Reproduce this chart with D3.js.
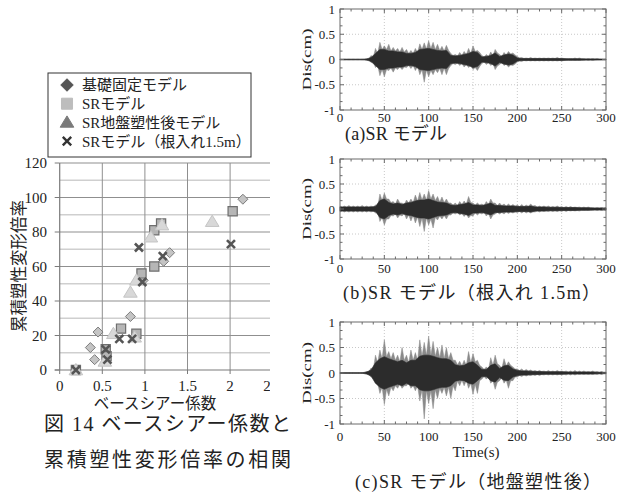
<!DOCTYPE html>
<html><head><meta charset="utf-8">
<script src="https://cdn.jsdelivr.net/npm/d3@7"></script>
<style>body{margin:0;background:#fff}</style>
</head><body>
<script>
// ---------- scatter data ----------
const legendLabels = ["基礎固定モデル","SRモデル","SR地盤塑性後モデル","SRモデル（根入れ1.5m）"];
const fixedX = [0.19,0.36,0.41,0.45,0.83,0.98,1.22,1.29,2.15];
const fixedY = [0,13,6,22,31,52,63,68,99];
const srX = [0.19,0.54,0.55,0.72,0.90,0.96,1.11,1.11,1.19,2.03];
const srY = [0,12,8,24,21,56,60,81,85,92];
const plastX = [0.19,0.53,0.63,0.83,0.88,0.90,1.07,1.20,1.79];
const plastY = [0,5,21,45,19,52,77,84,86];
const embX = [0.19,0.54,0.56,0.70,0.85,0.93,0.97,1.21,2.01];
const embY = [0,12,6,18,18,71,51,66,73];
const scatterYTicks = [0,20,40,60,80,100,120];
const scatterXTicks = [0,0.5,1,1.5,2,2.5];

// ---------- waveform envelope data (every 5 s, 0..300 s) ----------
const timeStep = 5;
const upA = [0.01,0.01,0.01,0.01,0.01,0.01,0.02,0.08,0.22,0.34,0.27,0.3,0.24,0.22,0.24,0.2,0.18,0.22,0.31,0.33,0.37,0.34,0.3,0.26,0.28,0.12,0.1,0.14,0.16,0.22,0.27,0.18,0.08,0.1,0.15,0.2,0.1,0.14,0.16,0.13,0.06,0.04,0.03,0.04,0.03,0.03,0.03,0.03,0.03,0.04,0.03,0.02,0.02,0.03,0.03,0.02,0.02,0.02,0.02,0.01,0.01];
const dnA = [0.01,0.01,0.01,0.01,0.01,0.01,0.02,0.06,0.16,0.32,0.34,0.22,0.25,0.2,0.2,0.16,0.18,0.22,0.3,0.45,0.34,0.3,0.26,0.3,0.3,0.12,0.1,0.12,0.15,0.16,0.2,0.22,0.08,0.1,0.12,0.2,0.1,0.12,0.15,0.12,0.05,0.04,0.03,0.03,0.03,0.03,0.03,0.03,0.03,0.03,0.03,0.02,0.02,0.02,0.02,0.02,0.02,0.02,0.01,0.01,0.01];
const coreA = [0.006,0.006,0.006,0.006,0.006,0.006,0.01,0.04,0.12,0.2,0.2,0.17,0.17,0.15,0.15,0.12,0.12,0.14,0.2,0.21,0.22,0.2,0.18,0.17,0.18,0.08,0.07,0.08,0.1,0.12,0.16,0.14,0.05,0.06,0.08,0.13,0.06,0.09,0.11,0.09,0.03,0.02,0.02,0.02,0.02,0.02,0.02,0.02,0.02,0.02,0.02,0.015,0.015,0.015,0.015,0.012,0.012,0.012,0.01,0.008,0.008];

const upB = [0.06,0.06,0.07,0.06,0.06,0.07,0.06,0.06,0.08,0.3,0.32,0.2,0.15,0.2,0.12,0.18,0.2,0.28,0.33,0.3,0.37,0.3,0.25,0.24,0.2,0.12,0.12,0.15,0.16,0.25,0.12,0.12,0.1,0.15,0.2,0.12,0.12,0.1,0.1,0.09,0.08,0.09,0.08,0.1,0.07,0.06,0.06,0.06,0.05,0.06,0.05,0.05,0.05,0.04,0.04,0.04,0.04,0.03,0.03,0.03,0.03];
const dnB = [0.06,0.06,0.06,0.06,0.06,0.06,0.06,0.06,0.08,0.25,0.32,0.2,0.14,0.18,0.14,0.2,0.24,0.28,0.35,0.45,0.32,0.38,0.22,0.2,0.2,0.12,0.1,0.12,0.15,0.18,0.14,0.12,0.1,0.14,0.2,0.1,0.1,0.1,0.09,0.08,0.07,0.08,0.08,0.08,0.06,0.06,0.05,0.05,0.05,0.05,0.05,0.05,0.04,0.04,0.04,0.03,0.03,0.03,0.03,0.03,0.03];
const coreB = [0.04,0.04,0.04,0.04,0.04,0.04,0.04,0.04,0.05,0.17,0.2,0.13,0.1,0.12,0.09,0.12,0.13,0.16,0.18,0.18,0.2,0.17,0.14,0.13,0.12,0.08,0.07,0.09,0.1,0.13,0.08,0.08,0.07,0.09,0.12,0.07,0.07,0.06,0.06,0.06,0.05,0.05,0.05,0.06,0.04,0.04,0.04,0.035,0.035,0.035,0.03,0.03,0.03,0.03,0.025,0.025,0.025,0.02,0.02,0.02,0.02];

const upC = [0.01,0.01,0.01,0.01,0.01,0.01,0.03,0.1,0.35,0.45,0.65,0.42,0.4,0.35,0.5,0.35,0.45,0.4,0.65,0.6,0.72,0.62,0.5,0.55,0.5,0.4,0.25,0.23,0.25,0.42,0.38,0.25,0.12,0.12,0.3,0.35,0.15,0.28,0.22,0.12,0.08,0.08,0.07,0.06,0.05,0.05,0.04,0.05,0.04,0.05,0.04,0.04,0.04,0.05,0.04,0.04,0.03,0.04,0.03,0.03,0.02];
const dnC = [0.01,0.01,0.01,0.01,0.01,0.01,0.02,0.08,0.2,0.4,0.62,0.45,0.35,0.3,0.3,0.25,0.3,0.35,0.55,0.9,0.6,0.7,0.5,0.4,0.45,0.5,0.35,0.25,0.25,0.3,0.42,0.4,0.12,0.12,0.2,0.32,0.15,0.2,0.3,0.15,0.08,0.07,0.06,0.05,0.05,0.05,0.04,0.04,0.04,0.04,0.04,0.04,0.04,0.04,0.03,0.03,0.03,0.03,0.03,0.03,0.02];
const coreC = [0.006,0.006,0.006,0.006,0.006,0.006,0.02,0.06,0.2,0.28,0.32,0.28,0.25,0.22,0.25,0.2,0.25,0.25,0.33,0.35,0.35,0.33,0.3,0.28,0.28,0.25,0.16,0.14,0.15,0.2,0.22,0.15,0.07,0.07,0.15,0.18,0.09,0.14,0.15,0.08,0.05,0.04,0.04,0.035,0.03,0.03,0.025,0.025,0.025,0.025,0.025,0.02,0.02,0.02,0.02,0.02,0.02,0.02,0.015,0.015,0.01];

const timeTicks = [0,50,100,150,200,250,300];
const disTicks = [-1,-0.5,0,0.5,1];
const panelCaptions = ["(a)SR モデル","(b)SR モデル（根入れ 1.5m）","(c)SR モデル（地盤塑性後）"];

// ---------- drawing ----------
const FONT = '"Liberation Serif","Times New Roman","Noto Sans CJK JP",serif';
const svg = d3.select("body").append("svg").attr("width",621).attr("height",493)
  .style("font-family",FONT);
svg.append("rect").attr("width",621).attr("height",493).attr("fill","#fff");

// ===== scatter =====
const xS = d3.scaleLinear().domain([0,2.5]).range([59.7,272.7]);
const yS = d3.scaleLinear().domain([0,120]).range([370,163]);
svg.append("clipPath").attr("id","lc").append("rect").attr("x",0).attr("y",0).attr("width",270).attr("height",493);
const L = svg.append("g").attr("clip-path","url(#lc)");

d3.range(10,121,10).forEach(v=>{
  const major = v%20===0;
  L.append("line").attr("x1",xS(0)).attr("x2",xS(2.5)).attr("y1",yS(v)).attr("y2",yS(v))
    .attr("stroke",major?"#8f8f8f":"#cfcfcf").attr("stroke-width",major?1:1.6);
});
scatterXTicks.forEach(v=>{
  L.append("line").attr("x1",xS(v)).attr("x2",xS(v)).attr("y1",yS(0)).attr("y2",yS(120))
    .attr("stroke",v===0?"#7a7a7a":"#8f8f8f").attr("stroke-width",v===0?1.2:1);
});
L.append("line").attr("x1",xS(0)-5).attr("x2",xS(2.5)).attr("y1",yS(0)).attr("y2",yS(0))
  .attr("stroke","#7a7a7a").attr("stroke-width",1.2);
scatterYTicks.forEach(v=>{
  L.append("line").attr("x1",xS(0)-5).attr("x2",xS(0)).attr("y1",yS(v)).attr("y2",yS(v)).attr("stroke","#7a7a7a");
  L.append("text").attr("x",47).attr("y",yS(v)).attr("dy","0.35em").attr("text-anchor","end")
    .attr("font-size",15).attr("fill","#222").text(v);
});
scatterXTicks.forEach(v=>{
  L.append("line").attr("x1",xS(v)).attr("x2",xS(v)).attr("y1",yS(0)).attr("y2",yS(0)+4).attr("stroke","#7a7a7a");
  L.append("text").attr("x",xS(v)).attr("y",391).attr("text-anchor","middle")
    .attr("font-size",15).attr("fill","#222").text(v);
});

const shapes = {
  diamond:"M0,-5L5,0L0,5L-5,0Z",
  square:"M-4.6,-4.6h9.2v9.2h-9.2Z",
  triangle:"M0,-6.5L6.8,4.8L-6.8,4.8Z",
  cross:"M-4,-4L4,4M-4,4L4,-4"
};
function plotSeries(xs, ys, shape, fill, stroke, sw){
  L.append("g").selectAll("path").data(xs.map((x,i)=>[x,ys[i]])).join("path")
    .attr("d",shapes[shape])
    .attr("transform",d=>`translate(${xS(d[0])},${yS(d[1])})`)
    .attr("fill",fill).attr("stroke",stroke).attr("stroke-width",sw);
}
plotSeries(fixedX,fixedY,"diamond","#c4c4c4","#7c7c7c",1);
plotSeries(srX,srY,"square","#b6b6b6","#6e6e6e",1.2);
plotSeries(plastX,plastY,"triangle","#d8d8d8","#c4c4c4",1);
plotSeries(embX,embY,"cross","none","#555",2.6);

svg.append("text").attr("transform","translate(19,266) rotate(-90)").attr("text-anchor","middle")
  .attr("dy","0.35em").attr("font-size",16.5).attr("fill","#222").text("累積塑性変形倍率");
svg.append("text").attr("x",155).attr("y",409).attr("text-anchor","middle")
  .attr("font-size",15.5).attr("fill","#222").text("ベースシアー係数");
svg.append("text").attr("x",44).attr("y",431).attr("font-size",20).attr("fill","#222")
  .attr("textLength",247).attr("lengthAdjust","spacing").text("図 14  ベースシアー係数と");
svg.append("text").attr("x",44).attr("y",467).attr("font-size",20).attr("fill","#222")
  .attr("textLength",247).attr("lengthAdjust","spacing").text("累積塑性変形倍率の相関");

const lg = svg.append("g");
lg.append("rect").attr("x",48).attr("y",73).attr("width",203).attr("height",84)
  .attr("fill","#fff").attr("stroke","#333").attr("stroke-width",1);
const lgStyles = [
  {s:"diamond",f:"#555",st:"#555",w:1,sc:1.25},
  {s:"square",f:"#bdbdbd",st:"#bdbdbd",w:1,sc:1.2},
  {s:"triangle",f:"#7a7a7a",st:"#7a7a7a",w:1,sc:1.0},
  {s:"cross",f:"none",st:"#333",w:2.4,sc:1.05}
];
legendLabels.forEach((t,i)=>{
  const cy = 85 + i*18.7;
  const st = lgStyles[i];
  lg.append("path").attr("d",shapes[st.s]).attr("transform",`translate(67,${cy}) scale(${st.sc})`)
    .attr("fill",st.f).attr("stroke",st.st).attr("stroke-width",st.w/st.sc);
  lg.append("text").attr("x",82).attr("y",cy).attr("dy","0.36em").attr("font-size",15)
    .attr("fill","#222").text(t);
});

// ===== waveforms =====
const xT = d3.scaleLinear().domain([0,300]).range([340,606]);
const panels = [
  {top:9, bottom:110, up:upA, dn:dnA, core:coreA, tickY:121.5, cap:panelCaptions[0], capX:345, capY:140, capW:102},
  {top:159, bottom:259, up:upB, dn:dnB, core:coreB, tickY:272.5, cap:panelCaptions[1], capX:343, capY:299, capW:257},
  {top:322, bottom:424, up:upC, dn:dnC, core:coreC, tickY:441, cap:panelCaptions[2], capX:355, capY:488, capW:246}
];
panels.forEach((p,pi)=>{
  const yD = d3.scaleLinear().domain([-1,1]).range([p.bottom,p.top]);
  const g = svg.append("g");
  [50,100,150,200,250].forEach(t=>g.append("line").attr("x1",xT(t)).attr("x2",xT(t))
    .attr("y1",yD(-1)).attr("y2",yD(1)).attr("stroke","#c8c8c8").attr("stroke-dasharray","1,2"));
  [-0.5,0,0.5].forEach(v=>g.append("line").attr("x1",xT(0)).attr("x2",xT(300))
    .attr("y1",yD(v)).attr("y2",yD(v)).attr("stroke","#c8c8c8").attr("stroke-dasharray","1,2"));
  // spiky outer envelope: peak at each sample time, dipping to the core amplitude between samples
  const n = p.up.length;
  const pts = [];
  for(let i=0;i<n;i++){
    pts.push({t:i*timeStep, hi:p.up[i], lo:p.dn[i]});
    if(i<n-1) pts.push({t:i*timeStep+timeStep/2, hi:p.core[i], lo:p.core[i]});
  }
  const outer = d3.area().x(d=>xT(d.t)).y0(d=>yD(-d.lo)).y1(d=>yD(d.hi));
  g.append("path").attr("d",outer(pts)).attr("fill","#8a8a8a").attr("stroke","#8a8a8a").attr("stroke-width",0.5);
  const idx = d3.range(n);
  const core = d3.area().x(i=>xT(i*timeStep)).y0(i=>yD(-p.core[i])).y1(i=>yD(p.core[i]));
  g.append("path").attr("d",core(idx)).attr("fill","#2c2c2c").attr("stroke","#2c2c2c").attr("stroke-width",0.6);
  g.append("rect").attr("x",xT(0)).attr("y",yD(1)).attr("width",xT(300)-xT(0)).attr("height",yD(-1)-yD(1))
    .attr("fill","none").attr("stroke","#6a6a6a").attr("stroke-width",1);
  d3.range(0,300.1,12.5).forEach(t=>{
    const major = t%50===0; const len = major?4:2.5;
    g.append("line").attr("x1",xT(t)).attr("x2",xT(t)).attr("y1",yD(-1)).attr("y2",yD(-1)-len).attr("stroke","#6a6a6a");
    g.append("line").attr("x1",xT(t)).attr("x2",xT(t)).attr("y1",yD(1)).attr("y2",yD(1)+len).attr("stroke","#6a6a6a");
  });
  d3.range(0,13).map(k=>-1+k/6).forEach(v=>{
    const major = Math.abs(v*2-Math.round(v*2))<1e-6; const len = major?4:2.5;
    g.append("line").attr("x1",xT(0)).attr("x2",xT(0)+len).attr("y1",yD(v)).attr("y2",yD(v)).attr("stroke","#6a6a6a");
    g.append("line").attr("x1",xT(300)).attr("x2",xT(300)-len).attr("y1",yD(v)).attr("y2",yD(v)).attr("stroke","#6a6a6a");
  });
  disTicks.forEach(v=>g.append("text").attr("x",335).attr("y",yD(v)).attr("dy","0.35em")
    .attr("text-anchor","end").attr("font-size",13).attr("fill","#222").text(v));
  timeTicks.forEach(t=>g.append("text").attr("x",xT(t)).attr("y",p.tickY).attr("text-anchor","middle")
    .attr("font-size",13).attr("fill","#222").text(t));
  g.append("text").attr("transform",`translate(306,${(p.top+p.bottom)/2}) rotate(-90)`)
    .attr("text-anchor","middle").attr("dy","0.35em").attr("font-size",13)
    .attr("textLength",62).attr("lengthAdjust","spacingAndGlyphs").attr("fill","#222").text("Dis(cm)");
  g.append("text").attr("x",p.capX).attr("y",p.capY).attr("font-size",18).attr("fill","#222")
    .attr("textLength",p.capW).attr("lengthAdjust","spacing").text(p.cap);
  if(pi===2){
    svg.append("text").attr("x",476).attr("y",457).attr("text-anchor","middle")
      .attr("font-size",15).attr("fill","#222").text("Time(s)");
  }
});
</script>
</body></html>
